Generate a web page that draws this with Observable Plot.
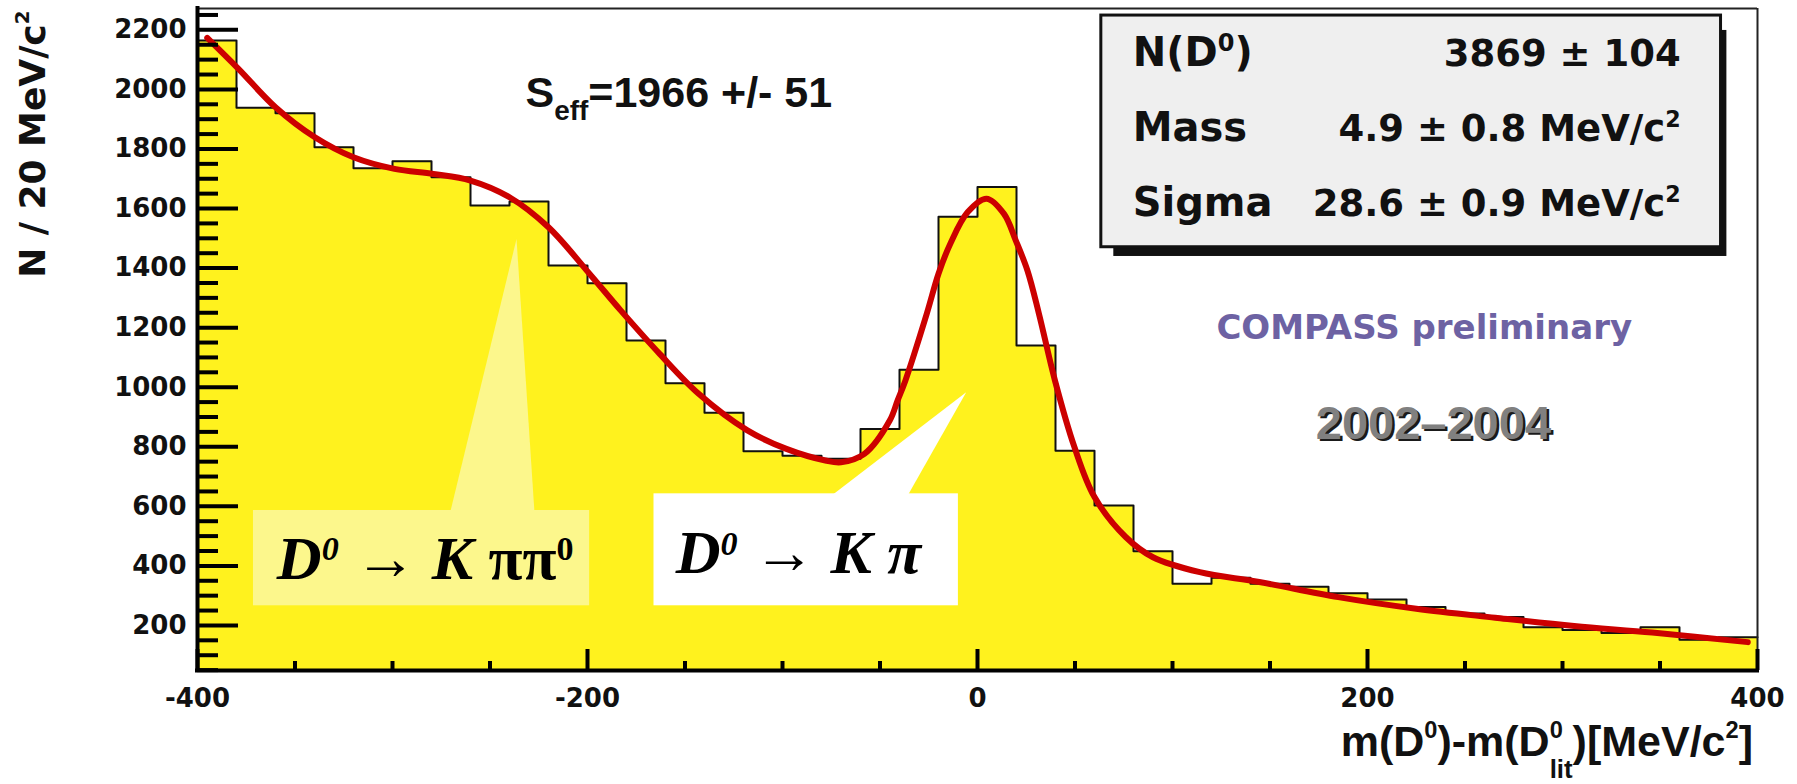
<!DOCTYPE html>
<html><head><meta charset="utf-8">
<script src="https://cdn.jsdelivr.net/npm/d3@7"></script>
<script src="https://cdn.jsdelivr.net/npm/@observablehq/plot@0.6"></script>
<style>html,body{margin:0;padding:0;background:#fff;} svg{display:block}</style>
</head><body><div id="chart"></div>
<script>
// ---- data ----
// histogram: lower bin edges (MeV/c^2) and entries per 20 MeV/c^2 bin
const binLow = [-400,-380,-360,-340,-320,-300,-280,-260,-240,-220,
                -200,-180,-160,-140,-120,-100,-80,-60,-40,-20,
                0,20,40,60,80,100,120,140,160,180,
                200,220,240,260,280,300,320,340,360,380];
const binCounts = [2164,1938,1920,1806,1735,1759,1705,1610,1624,1409,
                   1349,1157,1013,914,785,770,760,860,1059,1572,
                   1672,1140,787,603,449,340,360,340,330,308,
                   287,262,240,228,194,185,175,194,152,160];
const binWidth = 20;
// fitted function, sampled off the red curve
const fitX = [-395,-379,-360,-340,-320,-299,-279,-260,-240,-220,-199,-183,-163,-143,-118,-98,-78,-70,-58,-45,-41,-37,-26,-20,-14,-5,4.6,13.6,19.6,25.6,31.5,39.7,49.7,60,76,90,114,144.5,185,225,265.5,306,346,395];
const fitY = [2173,2069,1940,1840,1772,1733,1716,1694,1638,1537,1381,1258,1112,978,855,793,754,748,776,888,955,1022,1247,1381,1481,1588,1633,1582,1493,1392,1247,1023,799,631,497,429,379,346,295,256,226,198,176,144];
// axis ticks
const xMajor = [-400,-200,0,200,400];
const xMinor = [-350,-300,-250,-150,-100,-50,50,100,150,250,300,350];
const yMajor = [200,400,600,800,1000,1200,1400,1600,1800,2000,2200];
const yMinor = [50,100,150,250,300,350,450,500,550,650,700,750,850,900,950,1050,1100,1150,1250,1300,1350,1450,1500,1550,1650,1700,1750,1850,1900,1950,2050,2100,2150,2250];
// texts
const statNames = ["N(D^{0})", "Mass", "Sigma"];
const statValues = ["3869 ± 104", "4.9 ± 0.8 MeV/c^{2}", "28.6 ± 0.9 MeV/c^{2}"];
const seffText = "S_{eff}=1966 +/- 51";
const xTitle = "m(D^{0})-m(D^{0}_{lit})[MeV/c^{2}]";
const yTitle = "N / 20 MeV/c^{2}";
const ann1Text = "*D^{0}* → *K* ππ^{0}";
const ann2Text = "*D^{0}* → *K π*";
const prelimText = "COMPASS preliminary";
const yearsText = "2002–2004";

// ---- build ----
const W = 1797, H = 784;
const mL = 197, mR = 40, mT = 8, mB = 114;
const plotW = W - mL - mR, plotH = H - mT - mB;
const yLo = 48.7, yHi = 2271.7;
const bins = binCounts.map((n, i) => ({lo: binLow[i], hi: binLow[i] + binWidth, n}));
const stepPts = bins.map(b => ({x: b.lo, y: b.n})).concat([{x: binLow[binLow.length-1] + binWidth, y: binCounts[binCounts.length-1]}]);
const fit = fitX.map((x, i) => ({x, y: fitY[i]}));

const SANS = "Liberation Sans, Arial, Helvetica, sans-serif";
const WIDE = "DejaVu Sans, Verdana, sans-serif";
const SERIF = "Liberation Serif, Times New Roman, serif";
const one = t => [t];

const chart = Plot.plot({
  width: W, height: H,
  marginLeft: mL, marginRight: mR, marginTop: mT, marginBottom: mB,
  x: {domain: [-400, 400], axis: null},
  y: {domain: [yLo, yHi], axis: null},
  style: {background: "white", fontFamily: SANS, overflow: "visible"},
  marks: [
    // histogram
    Plot.rect(bins, {x1: "lo", x2: "hi", y1: () => yLo, y2: "n", fill: "#fff21e"}),
    Plot.line(stepPts, {x: "x", y: "y", curve: "step-after", stroke: "#111", strokeWidth: 2}),
    // callouts
    Plot.line([[-236.4,1498],[-270.4,580],[-227.2,580]], {x: d => d[0], y: d => d[1], curve: "linear-closed", fill: "#fcf78c", stroke: "none"}),
    Plot.rect(one(0), {x1: () => -371.3, x2: () => -198.9, y1: () => 266, y2: () => 586, fill: "#fcf78c"}),
    Plot.line([[-5.8,983],[-74.8,636],[-35.8,636]], {x: d => d[0], y: d => d[1], curve: "linear-closed", fill: "white", stroke: "none"}),
    Plot.rect(one(0), {x1: () => -165.9, x2: () => -9.8, y1: () => 266, y2: () => 642, fill: "white"}),
    // fit
    Plot.line(fit, {x: "x", y: "y", curve: "catmull-rom", stroke: "#cc0000", strokeWidth: 6, strokeLinejoin: "round", strokeLinecap: "round"}),
    // stats box
    Plot.rect(one(0), {x1: () => 69.9, x2: () => 384.3, y1: () => 1439, y2: () => 2198, fill: "#111"}),
    Plot.rect(one(0), {x1: () => 63.5, x2: () => 381.3, y1: () => 1470, y2: () => 2248, fill: "#efefef", stroke: "#111", strokeWidth: 3}),
    Plot.text(statNames, {x: () => 79.6, y: (d, i) => 2077.3 - i * 251.8, text: d => d, textAnchor: "start", lineAnchor: "bottom",
      fontFamily: WIDE, fontWeight: "bold", fontSize: 40, fill: "#111"}),
    Plot.text(statValues, {x: () => 360.6, y: (d, i) => 2077.3 - i * 251.8, text: d => d, textAnchor: "end", lineAnchor: "bottom",
      fontFamily: WIDE, fontWeight: "bold", fontSize: 37, fill: "#111"}),
    // other annotations
    Plot.text(one(seffText), {x: () => -231.8, y: () => 1940, text: d => d, textAnchor: "start", lineAnchor: "bottom",
      fontFamily: SANS, fontWeight: "bold", fontSize: 43, fill: "#111"}),
    Plot.text(one(prelimText), {x: () => 229.1, y: () => 1162.5, text: d => d, textAnchor: "middle", lineAnchor: "bottom",
      fontFamily: WIDE, fontWeight: "bold", fontSize: 34, fill: "#6d62a3"}),
    Plot.text(one(yearsText), {x: () => 233.8, y: () => 826.7, text: d => d, textAnchor: "middle", lineAnchor: "bottom",
      fontFamily: SANS, fontWeight: "bold", fontSize: 47, fill: "#1a1a1a", dx: 2.5, dy: 2.5}),
    Plot.text(one(yearsText), {x: () => 233.8, y: () => 826.7, text: d => d, textAnchor: "middle", lineAnchor: "bottom",
      fontFamily: SANS, fontWeight: "bold", fontSize: 47, fill: "#808080"}),
    Plot.text(one(ann1Text), {x: () => -359.3, y: () => 356.6, text: d => d, textAnchor: "start", lineAnchor: "bottom",
      fontFamily: SERIF, fontWeight: "bold", fontSize: 62, fill: "#000"}),
    Plot.text(one(ann2Text), {x: () => -154.8, y: () => 375.4, text: d => d, textAnchor: "start", lineAnchor: "bottom",
      fontFamily: SERIF, fontWeight: "bold", fontSize: 62, fill: "#000"}),
    // frame and axes
    Plot.ruleY([yHi], {stroke: "#222", strokeWidth: 2}),
    Plot.ruleX([400], {stroke: "#222", strokeWidth: 2}),
    Plot.tickY(yMinor, {y: d => d, stroke: "#000", strokeWidth: 4, insetRight: plotW - 21}),
    Plot.tickY(yMajor, {y: d => d, stroke: "#000", strokeWidth: 4, insetRight: plotW - 41}),
    Plot.tickX(xMinor, {x: d => d, stroke: "#000", strokeWidth: 4, insetTop: plotH - 9}),
    Plot.tickX(xMajor, {x: d => d, stroke: "#000", strokeWidth: 4, insetTop: plotH - 21}),
    Plot.ruleX([-400], {stroke: "#000", strokeWidth: 4, strokeLinecap: "square"}),
    Plot.ruleY([yLo], {stroke: "#000", strokeWidth: 4, strokeLinecap: "square"}),
    // tick labels
    Plot.text(yMajor, {x: () => -400, y: d => d, text: d => String(d), textAnchor: "end", lineAnchor: "middle", dx: -11,
      fontFamily: WIDE, fontWeight: "bold", fontSize: 26, fill: "#111"}),
    Plot.text(xMajor, {x: d => d, y: () => -72.2, text: d => String(d), textAnchor: "middle", lineAnchor: "bottom",
      fontFamily: WIDE, fontWeight: "bold", fontSize: 26, fill: "#111"}),
    // axis titles
    Plot.text(one(xTitle), {x: () => 397.7, y: () => -238.4, text: d => d, textAnchor: "end", lineAnchor: "bottom",
      fontFamily: SANS, fontWeight: "bold", fontSize: 43, fill: "#111"}),
    Plot.text(one(yTitle), {x: () => -478, y: () => 2264.9, text: d => d, textAnchor: "end", lineAnchor: "bottom", rotate: -90,
      fontFamily: WIDE, fontWeight: "bold", fontSize: 36, fill: "#111"})
  ]
});
document.getElementById("chart").append(chart);

// ---- rich text: ^{sup}, _{sub}, *italic* ----
const statOpt = {supScale: 0.6, supRaise: 0.38, subScale: 0.6, subDrop: 0.3};
const annOpt = {supScale: 0.55, supRaise: 0.3, subScale: 0.5, subDrop: 0.3};
const richOpts = new Map([
  [seffText, {supScale: 0.6, supRaise: 0.4, subScale: 0.65, subDrop: 0.3}],
  [xTitle, {supScale: 0.55, supRaise: 0.42, subScale: 0.6, subDrop: 0.5}],
  [yTitle, {supScale: 0.55, supRaise: 0.45, subScale: 0.6, subDrop: 0.3}],
  [ann1Text, annOpt], [ann2Text, annOpt]
]);
statNames.concat(statValues).forEach(s => richOpts.set(s, statOpt));

function richify(t, o) {
  const ns = "http://www.w3.org/2000/svg";
  const src = t.textContent;
  const fs = parseFloat(getComputedStyle(t).fontSize);
  while (t.firstChild) t.removeChild(t.firstChild);
  let italic = false, shift = 0, supW = 0, prevSup = false, pendDx = 0;
  const emit = (str, kind) => {
    if (!str) return;
    const ts = document.createElementNS(ns, "tspan");
    ts.textContent = str;
    ts.setAttribute("font-style", italic ? "italic" : "normal");
    let target = 0, size = fs;
    if (kind === "sup") { target = -o.supRaise * fs; size = o.supScale * fs; }
    if (kind === "sub") { target = o.subDrop * fs; size = o.subScale * fs; }
    if (size !== fs) ts.setAttribute("font-size", size);
    if (target - shift) ts.setAttribute("dy", target - shift);
    shift = target;
    let dx = 0;
    if (kind === "sub" && prevSup) dx = -supW;
    else if (pendDx) dx = pendDx;
    pendDx = 0;
    if (dx) ts.setAttribute("dx", dx);
    t.appendChild(ts);
    if (kind === "sup") { supW = ts.getComputedTextLength(); prevSup = true; }
    else {
      if (kind === "sub" && prevSup) pendDx = Math.max(0, supW - ts.getComputedTextLength());
      prevSup = false;
    }
  };
  let buf = "", i = 0;
  while (i < src.length) {
    const c = src[i];
    if (c === "*") { emit(buf, "n"); buf = ""; italic = !italic; i++; continue; }
    if ((c === "^" || c === "_") && src[i + 1] === "{") {
      emit(buf, "n"); buf = "";
      const j = src.indexOf("}", i);
      emit(src.slice(i + 2, j), c === "^" ? "sup" : "sub");
      i = j + 1; continue;
    }
    buf += c; i++;
  }
  emit(buf, "n");
}
chart.querySelectorAll("text").forEach(t => {
  const o = richOpts.get(t.textContent);
  if (o) richify(t, o);
});
</script>
</body></html>
